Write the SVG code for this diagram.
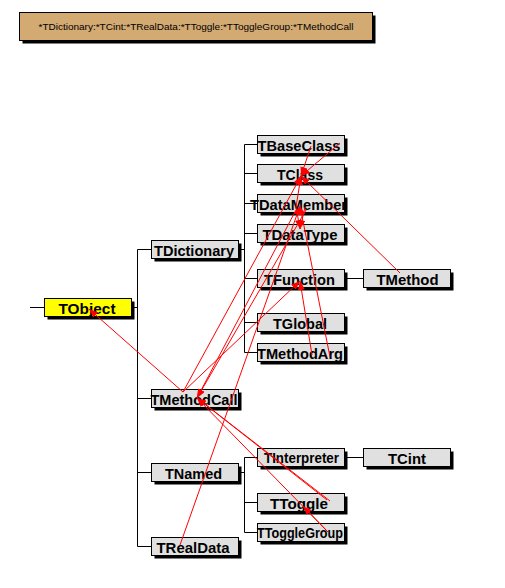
<svg xmlns="http://www.w3.org/2000/svg" width="505" height="588" viewBox="0 0 505 588">
<style>
.sh{fill:#000}
.bx{fill:#E0E0E0;stroke:#000;stroke-width:1}
.yb{fill:#FFFF00;stroke:#000;stroke-width:1}
.tb{fill:#D3AA72;stroke:#000;stroke-width:1}
.t{font-family:"Liberation Sans",Arial,sans-serif;font-weight:bold;font-size:15.5px;text-anchor:middle;fill:#000}
.ts{font-size:14px}
.tt{font-family:"Liberation Sans",Arial,sans-serif;font-size:9.5px;text-anchor:middle;fill:#000}
.tree line{stroke:#000;stroke-width:1}
.ref line{stroke:#FF0000;stroke-width:1;marker-end:url(#ah)}
</style>
<defs>
<marker id="ah" viewBox="0 0 9 7" refX="9" refY="3.5" markerWidth="9" markerHeight="7" markerUnits="userSpaceOnUse" orient="auto">
<path d="M0,0 L9,3.5 L0,7 z" fill="#FF0000"/>
</marker>
</defs>
<rect x="0" y="0" width="505" height="588" fill="#FFFFFF"/>
<g id="title">
<rect class="sh" x="22.5" y="15.5" width="353" height="28"/>
<rect class="tb" x="19.5" y="12.5" width="353" height="28"/>
<text class="tt" x="196" y="30" textLength="315" lengthAdjust="spacingAndGlyphs">*TDictionary:*TCint:*TRealData:*TToggle:*TToggleGroup:*TMethodCall</text>
</g>
<g class="tree" id="connectors-tree">
<line x1="30" y1="307.5" x2="44" y2="307.5"/>
<line x1="131" y1="307.5" x2="137.5" y2="307.5"/>
<line x1="137.5" y1="249.5" x2="137.5" y2="546.5"/>
<line x1="137.5" y1="249.5" x2="151" y2="249.5"/>
<line x1="137.5" y1="398.5" x2="151" y2="398.5"/>
<line x1="137.5" y1="472.5" x2="151" y2="472.5"/>
<line x1="137.5" y1="546.5" x2="151" y2="546.5"/>
<line x1="238" y1="249.5" x2="244.5" y2="249.5"/>
<line x1="244.5" y1="144.5" x2="244.5" y2="352.5"/>
<line x1="244.5" y1="144.5" x2="257" y2="144.5"/>
<line x1="244.5" y1="173.5" x2="257" y2="173.5"/>
<line x1="244.5" y1="203.5" x2="257" y2="203.5"/>
<line x1="244.5" y1="233.5" x2="257" y2="233.5"/>
<line x1="244.5" y1="278.5" x2="257" y2="278.5"/>
<line x1="244.5" y1="322.5" x2="257" y2="322.5"/>
<line x1="244.5" y1="352.5" x2="257" y2="352.5"/>
<line x1="344" y1="278.5" x2="363" y2="278.5"/>
<line x1="238" y1="472.5" x2="244.5" y2="472.5"/>
<line x1="244.5" y1="457.5" x2="244.5" y2="532.5"/>
<line x1="244.5" y1="457.5" x2="257" y2="457.5"/>
<line x1="244.5" y1="502.5" x2="257" y2="502.5"/>
<line x1="244.5" y1="532.5" x2="257" y2="532.5"/>
<line x1="344" y1="457.5" x2="363" y2="457.5"/>
</g>
<g id="TObject"><rect class="sh" x="47.5" y="301.5" width="87" height="18"/><rect class="yb" x="44.5" y="298.5" width="87" height="18"/><text class="t" x="87" y="313.5" textLength="57" lengthAdjust="spacingAndGlyphs">TObject</text></g>
<g id="TDictionary"><rect class="sh" x="154.5" y="243.5" width="87" height="18"/><rect class="bx" x="151.5" y="240.5" width="87" height="18"/><text class="t" x="194" y="255.5" textLength="80" lengthAdjust="spacingAndGlyphs">TDictionary</text></g>
<g id="TBaseClass"><rect class="sh" x="260.5" y="138.5" width="87" height="18"/><rect class="bx" x="257.5" y="135.5" width="87" height="18"/><text class="t" x="299" y="150.5" textLength="83" lengthAdjust="spacingAndGlyphs">TBaseClass</text></g>
<g id="TClass"><rect class="sh" x="260.5" y="167.5" width="87" height="18"/><rect class="bx" x="257.5" y="164.5" width="87" height="18"/><text class="t" x="300" y="179.5" textLength="46" lengthAdjust="spacingAndGlyphs">TClass</text></g>
<g id="TDataMember"><rect class="sh" x="260.5" y="197.5" width="87" height="18"/><rect class="bx" x="257.5" y="194.5" width="87" height="18"/><text class="t" x="298.5" y="209.5" textLength="97" lengthAdjust="spacingAndGlyphs">TDataMember</text></g>
<g id="TDataType"><rect class="sh" x="260.5" y="227.5" width="87" height="18"/><rect class="bx" x="257.5" y="224.5" width="87" height="18"/><text class="t" x="300" y="239.5" textLength="75" lengthAdjust="spacingAndGlyphs">TDataType</text></g>
<g id="TFunction"><rect class="sh" x="260.5" y="272.5" width="87" height="18"/><rect class="bx" x="257.5" y="269.5" width="87" height="18"/><text class="t" x="299.5" y="284.5" textLength="71" lengthAdjust="spacingAndGlyphs">TFunction</text></g>
<g id="TMethod"><rect class="sh" x="366.5" y="272.5" width="87" height="18"/><rect class="bx" x="363.5" y="269.5" width="87" height="18"/><text class="t" x="407.5" y="284.5" textLength="62" lengthAdjust="spacingAndGlyphs">TMethod</text></g>
<g id="TGlobal"><rect class="sh" x="260.5" y="316.5" width="87" height="18"/><rect class="bx" x="257.5" y="313.5" width="87" height="18"/><text class="t" x="300" y="328.5" textLength="54" lengthAdjust="spacingAndGlyphs">TGlobal</text></g>
<g id="TMethodArg"><rect class="sh" x="260.5" y="346.5" width="87" height="18"/><rect class="bx" x="257.5" y="343.5" width="87" height="18"/><text class="t" x="300" y="358.5" textLength="86" lengthAdjust="spacingAndGlyphs">TMethodArg</text></g>
<g id="TMethodCall"><rect class="sh" x="154.5" y="392.5" width="87" height="18"/><rect class="bx" x="151.5" y="389.5" width="87" height="18"/><text class="t" x="194" y="404.5" textLength="87" lengthAdjust="spacingAndGlyphs">TMethodCall</text></g>
<g id="TNamed"><rect class="sh" x="154.5" y="466.5" width="87" height="18"/><rect class="bx" x="151.5" y="463.5" width="87" height="18"/><text class="t" x="193.5" y="478.5" textLength="57" lengthAdjust="spacingAndGlyphs">TNamed</text></g>
<g id="TRealData"><rect class="sh" x="154.5" y="540.5" width="87" height="18"/><rect class="bx" x="151.5" y="537.5" width="87" height="18"/><text class="t" x="193" y="552.5" textLength="73" lengthAdjust="spacingAndGlyphs">TRealData</text></g>
<g id="TInterpreter"><rect class="sh" x="260.5" y="451.5" width="87" height="18"/><rect class="bx" x="257.5" y="448.5" width="87" height="18"/><text class="t ts" x="301.5" y="463" textLength="75" lengthAdjust="spacingAndGlyphs">TInterpreter</text></g>
<g id="TCint"><rect class="sh" x="366.5" y="451.5" width="87" height="18"/><rect class="bx" x="363.5" y="448.5" width="87" height="18"/><text class="t" x="407" y="463.5" textLength="38" lengthAdjust="spacingAndGlyphs">TCint</text></g>
<g id="TToggle"><rect class="sh" x="260.5" y="496.5" width="87" height="18"/><rect class="bx" x="257.5" y="493.5" width="87" height="18"/><text class="t" x="299" y="508.5" textLength="58" lengthAdjust="spacingAndGlyphs">TToggle</text></g>
<g id="TToggleGroup"><rect class="sh" x="260.5" y="526.5" width="87" height="18"/><rect class="bx" x="257.5" y="523.5" width="87" height="18"/><text class="t ts" x="300" y="538" textLength="86" lengthAdjust="spacingAndGlyphs">TToggleGroup</text></g>
<g class="ref" id="connectors-ref">
<line x1="183" y1="392" x2="89" y2="309"/>
<line x1="183" y1="392" x2="301" y2="176"/>
<line x1="400" y1="273" x2="301" y2="176"/>
<line x1="311" y1="146" x2="301" y2="176"/>
<line x1="340" y1="143" x2="301" y2="176"/>
<line x1="296" y1="207" x2="301" y2="176"/>
<line x1="296" y1="207" x2="300" y2="229"/>
<line x1="305" y1="207" x2="300" y2="229"/>
<line x1="296" y1="210" x2="197" y2="398"/>
<line x1="306" y1="210" x2="197" y2="398"/>
<line x1="312" y1="355" x2="300" y2="281"/>
<line x1="330" y1="357" x2="300" y2="206"/>
<line x1="183" y1="392" x2="300" y2="281"/>
<line x1="180" y1="545" x2="300" y2="206"/>
<line x1="330" y1="501" x2="197" y2="398"/>
<line x1="327" y1="500" x2="197" y2="398"/>
<line x1="328" y1="532" x2="303" y2="506"/>
<line x1="328" y1="532" x2="197" y2="398"/>
</g>
</svg>
